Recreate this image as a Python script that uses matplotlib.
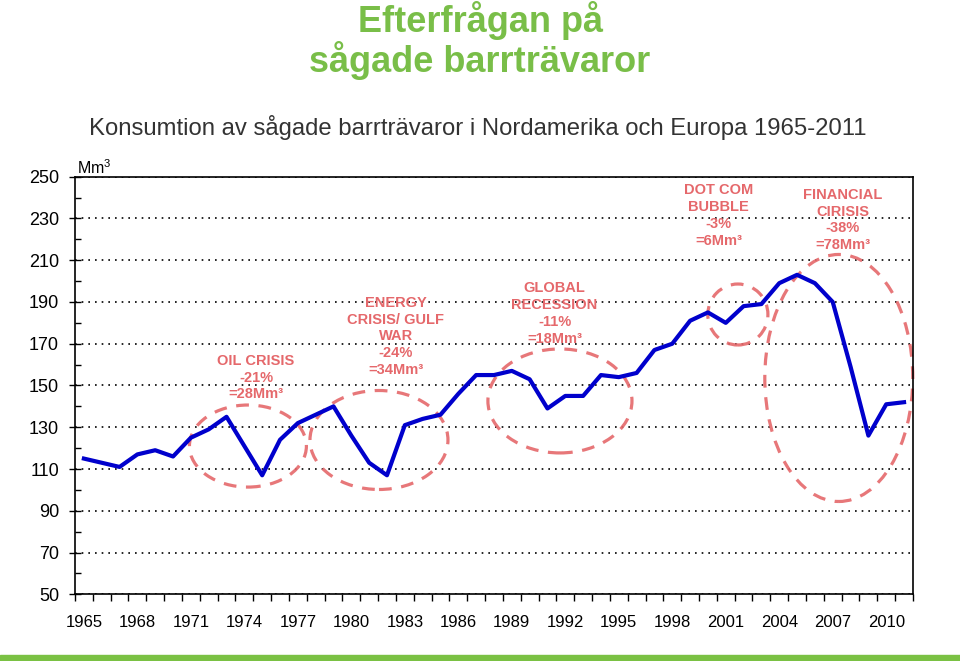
import numpy as np
import matplotlib.pyplot as plt
from matplotlib.patches import Ellipse, Rectangle

plt.rcParams['font.family'] = ['Liberation Sans', 'DejaVu Sans']
plt.rcParams['mathtext.fontset'] = 'custom'
plt.rcParams['mathtext.rm'] = 'Liberation Sans'

years = np.arange(1965, 2012)
consumption = np.array([115, 113, 111, 117, 119, 116, 125, 129, 135, 121,
                        107, 124, 132, 136, 140, 126, 113, 107, 131, 134,
                        136, 146, 155, 155, 157, 153, 139, 145, 145, 155,
                        154, 156, 167, 170, 181, 185, 180, 188, 189, 199,
                        203, 199, 190, 159, 126, 141, 142])

# crisis notes: text, text position, ellipse centre, ellipse size
crisis_text = ['OIL CRISIS\n-21%\n=28Mm³',
               'ENERGY\nCRISIS/ GULF\nWAR\n-24%\n=34Mm³',
               'GLOBAL\nRECESSION\n-11%\n=18Mm³',
               'DOT COM\nBUBBLE\n-3%\n=6Mm³',
               'FINANCIAL\nCIRISIS\n-38%\n=78Mm³']
text_x = [1974.65, 1982.5, 1991.4, 2000.6, 2007.57]
text_y = [153.8, 173.5, 184.5, 231.4, 229.3]
ell_x = [1974.2, 1981.55, 1991.7, 2001.68, 2007.34]
ell_y = [121.0, 123.9, 142.6, 184.0, 153.6]
ell_w = [6.56, 7.74, 8.08, 3.37, 8.3]
ell_h = [39.3, 47.4, 49.8, 29.2, 118.3]

red = '#E5686B'
green = '#79BE48'

fig = plt.figure(figsize=(9.6, 6.61), dpi=100)
ax = fig.add_axes([0.0781, 0.1009, 0.8729, 0.6318])

ax.plot(years, consumption, color='#0000CC', lw=3.0, zorder=3)

for i in range(len(crisis_text)):
    e = Ellipse((ell_x[i], ell_y[i]), ell_w[i], ell_h[i], fill=False,
                edgecolor=red, lw=2.3, linestyle=(0, (4, 3)), alpha=0.9,
                zorder=2, clip_on=False)
    ax.add_patch(e)
    ax.text(text_x[i], text_y[i], crisis_text[i], color=red, fontsize=10.5,
            fontweight='bold', ha='center', va='center', linespacing=1.25,
            zorder=4)

ax.set_xlim(1964.5, 2011.5)
ax.set_ylim(50, 250)
ax.set_xticks(years[::3])
ax.set_xticklabels([str(y) for y in years[::3]])
ax.set_xticks(np.arange(1964.5, 2012, 1), minor=True)
ax.tick_params(axis='x', which='major', length=0, labelsize=12, pad=15)
ax.tick_params(axis='x', which='minor', length=5, direction='out', width=1)
ax.set_yticks(np.arange(50, 251, 20))
ax.set_yticks(np.arange(60, 250, 20), minor=True)
ax.tick_params(axis='y', which='major', length=8, direction='inout', width=1,
               labelsize=13, pad=7.5)
ax.tick_params(axis='y', which='minor', length=4, direction='in', width=1)
ax.grid(axis='y', which='major', color='black', linestyle=(0, (1, 3)), lw=1.2)
for s in ax.spines.values():
    s.set_linewidth(1.2)

ax.text(0.003, 1.006, 'Mm$^3$', transform=ax.transAxes, fontsize=11.5,
        ha='left', va='baseline')

fig.text(0.5, 0.9516, 'Efterfrågan på', color=green, fontsize=26,
         fontweight='bold', ha='center', va='baseline')
fig.text(0.5, 0.891, 'sågade barrträvaror', color=green, fontsize=26,
         fontweight='bold', ha='center', va='baseline')
fig.text(0.498, 0.796,
         'Konsumtion av sågade barrträvaror i Nordamerika och Europa 1965-2011',
         color='#333333', fontsize=17.2, ha='center', va='baseline')

fig.patches.append(Rectangle((0, 0), 1, 6 / 661, transform=fig.transFigure,
                             color='#7AC143', zorder=5))

plt.savefig('out.png', dpi=100)
